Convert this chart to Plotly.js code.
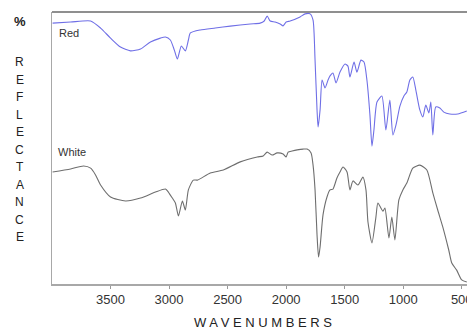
<!DOCTYPE html>
<html>
<head>
<meta charset="utf-8">
<script src="https://cdn.plot.ly/plotly-3.0.1.min.js"></script>
<style>
  html, body { margin: 0; padding: 0; background: #fff; }
  #chart { width: 467px; height: 333px; }
</style>
</head>
<body>
<div id="chart"></div>
<script>
// Wavenumbers (cm-1) and % reflectance (arbitrary 0-100 scale)
const redWavenumbers = [3995, 3841, 3670, 3585, 3500, 3415, 3330, 3244, 3159, 3074, 3031, 2989, 2955, 2929, 2895, 2861, 2835, 2818, 2733, 2605, 2477, 2307, 2222, 2187, 2162, 2136, 2094, 2051, 2026, 2000, 1966, 1881, 1838, 1795, 1770, 1753, 1736, 1727, 1710, 1693, 1668, 1642, 1625, 1600, 1574, 1540, 1497, 1472, 1455, 1420, 1395, 1361, 1335, 1310, 1284, 1267, 1250, 1224, 1182, 1148, 1114, 1088, 1062, 1028, 994, 969, 943, 918, 892, 858, 832, 807, 781, 764, 747, 722, 687, 653, 602, 534, 457];
const redValues = [95.9, 96.3, 96.7, 94.1, 90.4, 87.1, 85.7, 86.4, 89.0, 90.4, 90.8, 89.7, 86.0, 82.7, 87.5, 85.7, 89.7, 92.3, 93.4, 94.1, 94.8, 95.6, 95.9, 96.7, 98.5, 96.7, 96.3, 95.6, 94.9, 96.3, 96.7, 98.2, 99.3, 99.3, 97.0, 82.3, 64.0, 57.7, 64.0, 75.0, 72.1, 75.0, 76.5, 77.6, 73.9, 77.9, 80.9, 80.1, 76.1, 81.6, 77.9, 82.3, 81.6, 75.0, 62.1, 50.7, 56.6, 66.9, 69.1, 56.6, 67.6, 54.8, 58.4, 65.4, 69.1, 70.6, 75.0, 76.1, 71.3, 64.0, 61.4, 65.8, 62.9, 66.9, 54.8, 65.1, 64.7, 63.2, 62.5, 62.5, 63.6];

const whiteWavenumbers = [3995, 3841, 3730, 3670, 3628, 3585, 3500, 3372, 3244, 3116, 3031, 3006, 2972, 2946, 2920, 2886, 2861, 2835, 2793, 2758, 2648, 2537, 2392, 2247, 2196, 2162, 2119, 2077, 2026, 2000, 1983, 1949, 1906, 1855, 1821, 1787, 1770, 1753, 1736, 1723, 1710, 1685, 1651, 1625, 1600, 1566, 1540, 1514, 1480, 1455, 1429, 1387, 1344, 1318, 1301, 1267, 1233, 1216, 1173, 1156, 1122, 1097, 1071, 1037, 1003, 969, 918, 858, 798, 747, 705, 662, 611, 585, 543, 500, 457];
const whiteValues = [41.2, 42.3, 43.4, 42.6, 40.1, 36.4, 32.0, 30.5, 31.6, 33.8, 34.9, 33.8, 31.6, 29.8, 25.0, 30.5, 27.2, 34.6, 38.2, 38.2, 40.8, 41.9, 44.9, 46.7, 47.1, 48.5, 47.4, 48.2, 47.8, 46.7, 48.5, 48.9, 49.3, 49.6, 49.6, 48.2, 43.7, 34.6, 18.0, 9.9, 13.6, 25.4, 32.0, 34.6, 34.9, 39.0, 41.2, 43.0, 41.2, 34.6, 37.9, 36.4, 39.3, 34.6, 22.8, 15.1, 24.6, 29.8, 26.8, 27.9, 16.9, 24.6, 16.2, 30.9, 34.6, 37.1, 42.6, 43.7, 41.9, 33.5, 27.2, 21.0, 12.5, 7.7, 5.1, 1.5, 0.7];

const tickValues = [3500, 3000, 2500, 2000, 1500, 1000, 500];
const tickLabels = ["3500", "3000", "2500", "2000", "1500", "1000", "500"];
const yTitleLetters = ["R", "E", "F", "L", "E", "C", "T", "A", "N", "C", "E"];
const seriesLabels = ["Red", "White"];

const traces = [
  { x: redWavenumbers, y: redValues, type: 'scatter', mode: 'lines',
    line: { color: '#6f6fe6', width: 1.1, shape: 'spline', smoothing: 0.6 }, hoverinfo: 'skip', showlegend: false },
  { x: whiteWavenumbers, y: whiteValues, type: 'scatter', mode: 'lines',
    line: { color: '#6e6e6e', width: 1.1, shape: 'spline', smoothing: 0.6 }, hoverinfo: 'skip', showlegend: false }
];

const H = 272; // plot height in px
function py(p) { return (284 - p) / H; } // pixel y -> paper y
const annotations = [];
annotations.push({ text: '<b>%</b>', xref: 'paper', yref: 'paper', x: -0.078, y: py(22),
  showarrow: false, xanchor: 'center', yanchor: 'middle',
  font: { family: 'Liberation Sans, Arial, sans-serif', size: 13, color: '#222' } });
yTitleLetters.forEach((L, i) => {
  annotations.push({ text: L, xref: 'paper', yref: 'paper', x: -0.078, y: py(62 + i * 17.5),
    showarrow: false, xanchor: 'center', yanchor: 'middle',
    font: { family: 'Liberation Sans, Arial, sans-serif', size: 12, color: '#222' } });
});
annotations.push({ text: seriesLabels[0], xref: 'paper', yref: 'paper', x: 0.012, y: py(33),
  showarrow: false, xanchor: 'left', yanchor: 'middle',
  font: { family: 'Liberation Sans, Arial, sans-serif', size: 11, color: '#333' } });
annotations.push({ text: seriesLabels[1], xref: 'paper', yref: 'paper', x: 0.010, y: py(152),
  showarrow: false, xanchor: 'left', yanchor: 'middle',
  font: { family: 'Liberation Sans, Arial, sans-serif', size: 11, color: '#333' } });
annotations.push({ text: 'W A V E N U M B E R S', xref: 'paper', yref: 'paper', x: (263 - 52) / 415, y: py(322),
  showarrow: false, xanchor: 'center', yanchor: 'middle',
  font: { family: 'Liberation Sans, Arial, sans-serif', size: 13, color: '#222' } });

const layout = {
  width: 467, height: 333,
  margin: { l: 52, r: 0, t: 12, b: 49 },
  paper_bgcolor: '#ffffff', plot_bgcolor: '#ffffff',
  xaxis: {
    range: [4000, 455], autorange: false,
    tickvals: tickValues, ticktext: tickLabels,
    ticks: 'outside', ticklen: 3, tickcolor: '#999',
    ticklabeloverflow: 'allow',
    showgrid: false, zeroline: false,
    showline: true, linecolor: '#a8a8a8', linewidth: 1.5,
    tickfont: { family: 'Liberation Sans Narrow, Arial Narrow, Liberation Sans, sans-serif', size: 13, color: '#333' }
  },
  yaxis: {
    range: [0, 100], autorange: false,
    showticklabels: false, ticks: '', showgrid: false, zeroline: false,
    showline: true, linecolor: '#a8a8a8', linewidth: 1.5
  },
  shapes: [
    { type: 'line', xref: 'paper', yref: 'paper', x0: 0, x1: 1, y0: 1, y1: 1,
      line: { color: '#6a6a6a', width: 1.5 } }
  ],
  annotations: annotations
};

Plotly.newPlot('chart', traces, layout, { staticPlot: true, displayModeBar: false });
</script>
</body>
</html>
